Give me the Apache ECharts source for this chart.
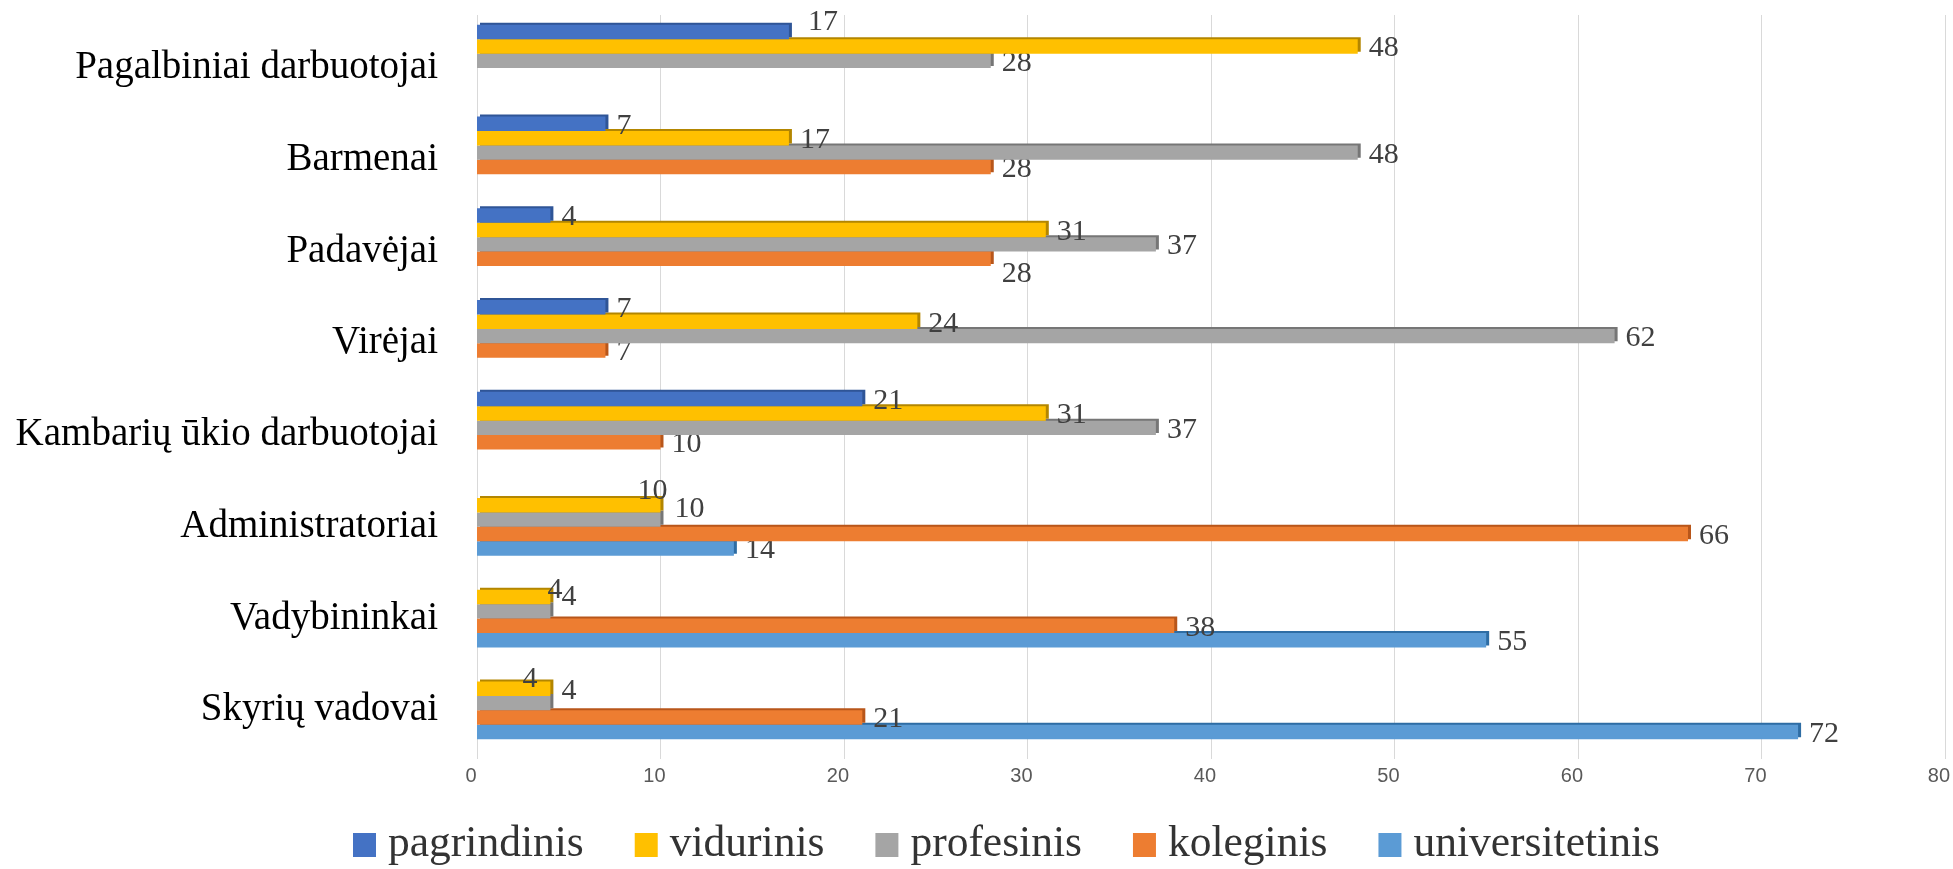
<!DOCTYPE html>
<html>
<head>
<meta charset="utf-8">
<script src="https://cdn.jsdelivr.net/npm/echarts@6/dist/echarts.min.js"></script>
<style>
html,body{margin:0;padding:0;background:#fff;}
#chart{width:1953px;height:869px;}
</style>
</head>
<body>
<div id="chart"></div>
<script>
const categories = ['Pagalbiniai darbuotojai', 'Barmenai', 'Padavėjai', 'Virėjai', 'Kambarių ūkio darbuotojai', 'Administratoriai', 'Vadybininkai', 'Skyrių vadovai'];
const seriesNames = ['pagrindinis', 'vidurinis', 'profesinis', 'koleginis', 'universitetinis'];
const pagrindinis = [17, 7, 4, 7, 21, null, null, null];
const vidurinis = [48, 17, 31, 24, 31, 10, 4, 4];
const profesinis = [28, 48, 37, 62, 37, 10, 4, 4];
const koleginis = [null, 28, 28, 7, 10, 66, 38, 21];
const universitetinis = [null, null, null, null, null, 14, 55, 72];
const axisMin = 0, axisMax = 80, axisInterval = 10;

const seriesValues = [pagrindinis, vidurinis, profesinis, koleginis, universitetinis];
const colors = ['#4472C4', '#FFC000', '#A5A5A5', '#ED7D31', '#5B9BD5'];
const edgeColors = ['#2F5597', '#B38600', '#767676', '#B8561A', '#2E6DA4'];

// label placement adjustments (style only, kept apart from the data)
const labelNudges = [
  { cat: 'Pagalbiniai darbuotojai', s: 'pagrindinis', dx: 8, dy: -12 },
  { cat: 'Padavėjai', s: 'koleginis', dx: 0, dy: 13 },
  { cat: 'Administratoriai', s: 'vidurinis', dx: -34, dy: -16 },
  { cat: 'Administratoriai', s: 'profesinis', dx: 3, dy: -13 },
  { cat: 'Vadybininkai', s: 'vidurinis', dx: -14, dy: -9 },
  { cat: 'Vadybininkai', s: 'profesinis', dx: 0, dy: -16 },
  { cat: 'Skyrių vadovai', s: 'vidurinis', dx: -39, dy: -12 },
  { cat: 'Skyrių vadovai', s: 'profesinis', dx: 0, dy: -14 }
];

const serif = '"Liberation Serif", "Times New Roman", serif';

const series = seriesNames.map((name, si) => ({
  name: name,
  type: 'bar',
  z: 10 - si,
  barGap: '0%',
  barCategoryGap: '21%',
  itemStyle: {
    color: colors[si],
    shadowColor: edgeColors[si],
    shadowOffsetX: 3,
    shadowOffsetY: -2,
    shadowBlur: 0
  },
  label: {
    show: true,
    position: 'right',
    distance: 11,
    offset: [0, 2],
    fontFamily: serif,
    fontSize: 30,
    color: '#404040'
  },
  data: seriesValues[si].map((v, ci) => {
    const n = labelNudges.find(o => o.cat === categories[ci] && o.s === name);
    if (v === null) return null;
    if (!n) return v;
    return { value: v, label: { offset: [n.dx, 2 + n.dy] } };
  })
}));

const chart = echarts.init(document.getElementById('chart'), null, { renderer: 'canvas' });
chart.setOption({
  animation: false,
  backgroundColor: '#ffffff',
  color: colors,
  grid: { left: 477, top: 15, width: 1480, height: 734, containLabel: false },
  legend: {
    data: seriesNames,
    left: 353,
    top: 822,
    padding: 0,
    itemWidth: 23,
    itemHeight: 24,
    itemGap: 51,
    icon: 'rect',
    textStyle: {
      fontFamily: serif,
      fontSize: 43.5,
      lineHeight: 46,
      color: '#333333',
      padding: [0, 0, 0, 7]
    }
  },
  xAxis: {
    type: 'value',
    min: axisMin,
    max: axisMax,
    interval: axisInterval,
    axisLine: { show: false },
    axisTick: { show: true, length: 10, lineStyle: { color: '#d9d9d9' } },
    splitLine: { show: true, lineStyle: { color: '#d9d9d9', width: 1 } },
    axisLabel: {
      margin: 17,
      fontFamily: '"Liberation Sans", Arial, sans-serif',
      fontSize: 20,
      color: '#595959',
      padding: [0, 12, 0, 0]
    }
  },
  yAxis: {
    type: 'category',
    inverse: true,
    data: categories,
    axisLine: { show: false },
    axisTick: { show: false },
    axisLabel: {
      margin: 39,
      formatter: v => '{s| }\n{t|' + v + '}',
      rich: {
        s: { fontSize: 10, height: 14, lineHeight: 14 },
        t: { fontFamily: serif, fontSize: 39, lineHeight: 44, color: '#000000' }
      }
    }
  },
  series: series
});
</script>
</body>
</html>
